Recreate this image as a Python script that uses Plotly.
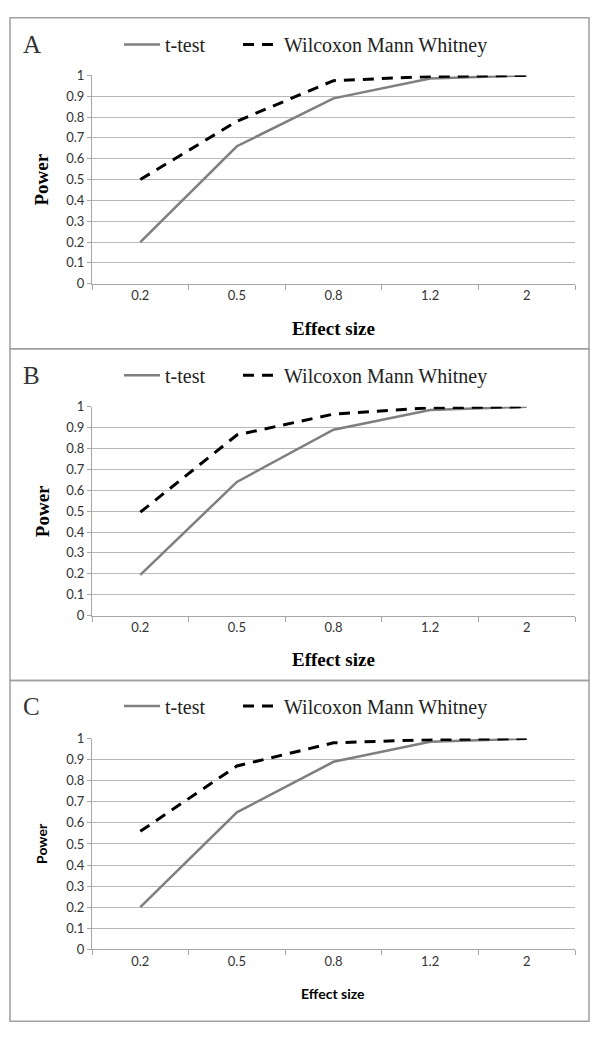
import plotly.graph_objects as go

W, H = 602, 1041

effect_sizes = ["0.2", "0.5", "0.8", "1.2", "2"]
panel_labels = ["A", "B", "C"]
ttest_A = [0.20, 0.66, 0.89, 0.985, 1.0]
wmw_A = [0.50, 0.78, 0.975, 0.995, 1.0]
ttest_B = [0.195, 0.64, 0.89, 0.985, 1.0]
wmw_B = [0.495, 0.865, 0.965, 0.995, 1.0]
ttest_C = [0.20, 0.65, 0.89, 0.985, 1.0]
wmw_C = [0.56, 0.87, 0.98, 0.995, 1.0]
series_names = ["t-test", "Wilcoxon Mann Whitney"]

ttests = [ttest_A, ttest_B, ttest_C]
wmws = [wmw_A, wmw_B, wmw_C]

# pixel layout per panel: (box_top, box_bottom, plot_top(y=1), plot_bottom(y=0), legend_y)
panels = [
    (10, 346, 68.5, 280, 37),
    (346, 683, 405, 617, 373),
    (683, 1029, 742, 956, 709),
]
box_left, box_right = 10, 589
plot_left, plot_right = 92, 575
legend_x_px = [119, 238]

def px(x):
    return x / W

def py(y):
    return 1 - y / H

serif = "Liberation Serif, Times New Roman, serif"
sans = "Lato, Open Sans, sans-serif"

fig = go.Figure()
layout = dict(
    width=W, height=H,
    margin=dict(l=0, r=0, t=0, b=0),
    paper_bgcolor="white", plot_bgcolor="white",
    showlegend=True,
    shapes=[], annotations=[],
)

for i in range(3):
    btop, bbot, ptop, pbot, ly = panels[i]
    suffix = "" if i == 0 else str(i + 1)
    leg_a = "legend" if i == 0 else f"legend{2 * i + 1}"
    leg_b = f"legend{2 * i + 2}"
    fig.add_trace(go.Scatter(
        x=effect_sizes, y=ttests[i], mode="lines", name=series_names[0],
        line=dict(color="#7f7f7f", width=2.5), showlegend=True,
        xaxis="x" + suffix, yaxis="y" + suffix, legend=leg_a, cliponaxis=False,
    ))
    fig.add_trace(go.Scatter(
        x=effect_sizes, y=wmws[i], mode="lines", name=series_names[1],
        line=dict(color="black", width=3, dash="11px,8px"), showlegend=True,
        xaxis="x" + suffix, yaxis="y" + suffix, legend=leg_b, cliponaxis=False,
    ))
    layout["xaxis" + suffix] = dict(
        type="category", domain=[px(plot_left), px(plot_right)],
        anchor="y" + suffix, range=[-0.5, 4.5], tickson="boundaries",
        ticks="outside", ticklen=5, tickcolor="#a6a6a6",
        showline=True, linecolor="#a6a6a6", linewidth=1,
        showgrid=False, zeroline=False,
        tickfont=dict(family=sans, size=13, color="#333333"),
        fixedrange=True,
    )
    layout["yaxis" + suffix] = dict(
        domain=[py(pbot), py(ptop)], anchor="x" + suffix,
        range=[0, 1], dtick=0.1, tick0=0,
        showgrid=True, gridcolor="#b8b8b8", gridwidth=1,
        showline=True, linecolor="#a6a6a6", linewidth=1,
        ticks="outside", ticklen=4, tickcolor="#a6a6a6",
        zeroline=False,
        tickfont=dict(family=sans, size=13, color="#333333"),
        fixedrange=True,
    )
    for leg, lx in zip([leg_a, leg_b], legend_x_px):
        layout[leg] = dict(
            visible=True,
            orientation="h", x=px(lx), y=py(ly), xanchor="left", yanchor="middle",
            font=dict(family=serif, size=20, color="#222222"),
            bgcolor="rgba(0,0,0,0)", itemwidth=36,
        )
    layout["shapes"].append(dict(
        type="rect", xref="paper", yref="paper",
        x0=px(box_left), x1=px(box_right), y0=py(bbot), y1=py(btop),
        line=dict(color="#a0a0a0", width=1.5), fillcolor="rgba(0,0,0,0)",
    ))
    layout["annotations"].append(dict(
        text=panel_labels[i], xref="paper", yref="paper",
        x=px(21), y=py(ly), xanchor="left", yanchor="middle", showarrow=False,
        font=dict(family=serif, size=25, color="#333333"),
    ))
    is_c = i == 2
    title_font = dict(family=sans if is_c else serif, size=14 if is_c else 19,
                      color="black")
    layout["annotations"].append(dict(
        text="<b>Power</b>", xref="paper", yref="paper",
        x=px(42), y=py((ptop + pbot) / 2), xanchor="center", yanchor="middle",
        textangle=-90, showarrow=False, font=title_font,
    ))
    layout["annotations"].append(dict(
        text="<b>Effect size</b>", xref="paper", yref="paper",
        x=px(333), y=py(pbot + 45), xanchor="center", yanchor="middle",
        showarrow=False, font=title_font,
    ))

fig.update_layout(**layout)
fig.write_html(
    "out.html",
    config={"displayModeBar": False},
    post_script="document.body.style.margin='0';document.body.style.padding='0';",
)
